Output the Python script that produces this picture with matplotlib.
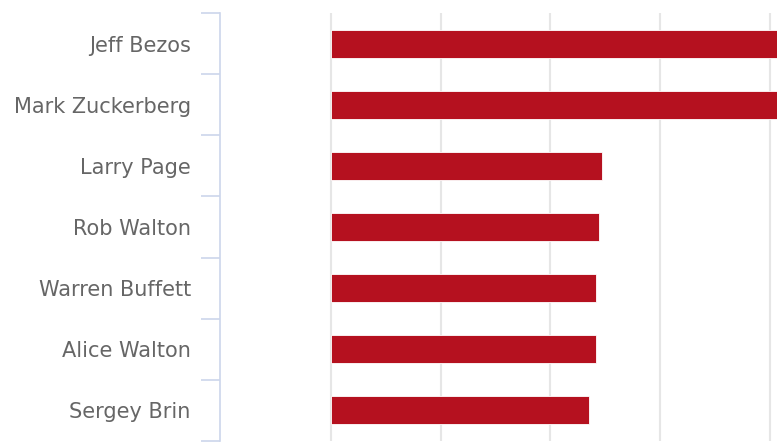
import numpy as np
import matplotlib.pyplot as plt
from matplotlib.ticker import FixedLocator

# data (gridline step = 20)
names = ["Jeff Bezos", "Mark Zuckerberg", "Larry Page", "Rob Walton",
         "Warren Buffett", "Alice Walton", "Sergey Brin"]
worth = [95.0, 86.0, 49.5, 48.8, 48.4, 48.4, 47.0]
x_ticks = [0, 20, 40, 60, 80]

W, H = 777, 442
fig = plt.figure(figsize=(W / 100, H / 100), dpi=100)
# plot area in pixels: x 220..777, y 13..441
ax = fig.add_axes([220 / W, 1 - 441 / H, (W - 220) / W, (441 - 13) / H])

y = np.arange(len(names))
ax.barh(y, worth, height=0.46, color="#b5111f", edgecolor="white",
        linewidth=0.6, zorder=3)

ax.set_xlim(-20.2, 81.3)
ax.set_ylim(len(names) - 0.5, -0.5)

ax.xaxis.set_major_locator(FixedLocator(x_ticks))
ax.grid(axis="x", color="#e6e6e6", linewidth=1.5, zorder=0)
ax.tick_params(axis="x", length=0, labelbottom=False)

ax.set_yticks(y)
ax.set_yticklabels(names, fontsize=15, color="#666666",
                   family=["DejaVu Sans"])
ax.yaxis.set_minor_locator(FixedLocator(np.arange(-0.5, len(names), 1.0)))
ax.tick_params(axis="y", which="major", length=0, pad=21)
ax.tick_params(axis="y", which="minor", length=13.7, width=1.2,
               color="#ccd6eb")

for s in ["top", "right", "bottom"]:
    ax.spines[s].set_visible(False)
ax.spines["left"].set_color("#ccd6eb")
ax.spines["left"].set_linewidth(1.2)

fig.savefig("out.png", dpi=100)
